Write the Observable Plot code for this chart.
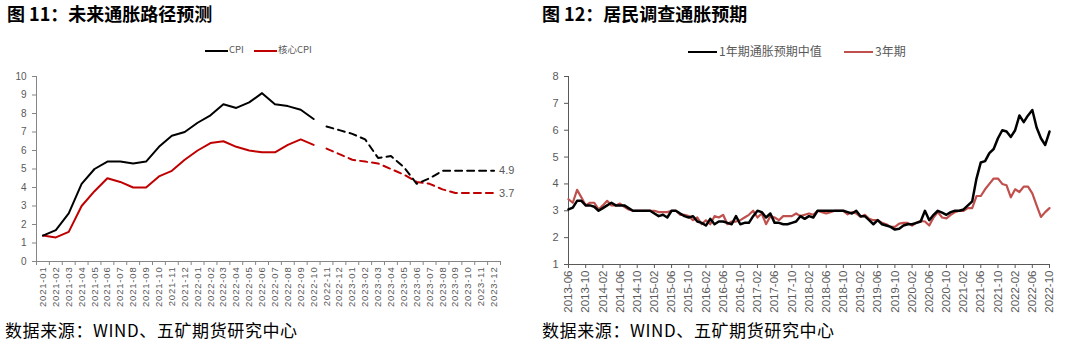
<!DOCTYPE html>
<html><head><meta charset="utf-8">
<script src="https://cdn.jsdelivr.net/npm/d3@7"></script>
<script src="https://cdn.jsdelivr.net/npm/@observablehq/plot@0.6"></script>
<style>
body{margin:0;width:1072px;height:352px;position:relative;background:#fff;overflow:hidden;font-family:"Noto Sans CJK SC",sans-serif;}
.abs{position:absolute;}
.title{font-weight:bold;font-size:18px;color:#000;white-space:nowrap;line-height:1;}
.cap{font-size:17px;color:#000;white-space:nowrap;line-height:1;letter-spacing:0.6px;}
.legtxt{white-space:nowrap;color:#595959;line-height:1;}
.legline{height:0;}
</style></head><body>
<div class="abs title" style="left:7px;top:4px">图 11：未来通胀路径预测</div>
<div class="abs title" style="left:542px;top:4px">图 12：居民调查通胀预期</div>

<div class="abs legline" style="left:205px;top:50px;width:23px;border-top:2px solid #000"></div>
<div class="abs legtxt" style="left:229px;top:45px;font-size:9.5px">CPI</div>
<div class="abs legline" style="left:254px;top:50px;width:23px;border-top:2px solid #C00000"></div>
<div class="abs legtxt" style="left:278px;top:45px;font-size:9.5px">核心CPI</div>

<div class="abs legline" style="left:688px;top:51px;width:29px;border-top:2px solid #000"></div>
<div class="abs legtxt" style="left:719px;top:45px;font-size:12px">1年期通胀预期中值</div>
<div class="abs legline" style="left:844px;top:51px;width:29px;border-top:2px solid #C0504D"></div>
<div class="abs legtxt" style="left:875px;top:45px;font-size:12px">3年期</div>

<div id="left" class="abs" style="left:0px;top:60px"></div>
<div id="right" class="abs" style="left:530px;top:60px"></div>

<div class="abs cap" style="left:5px;top:321px">数据来源：WIND、五矿期货研究中心</div>
<div class="abs cap" style="left:542px;top:321px">数据来源：WIND、五矿期货研究中心</div>

<script>
// ---------- 图11 data ----------
const leftMonths = ["2021-01","2021-02","2021-03","2021-04","2021-05","2021-06","2021-07","2021-08","2021-09","2021-10","2021-11","2021-12",
  "2022-01","2022-02","2022-03","2022-04","2022-05","2022-06","2022-07","2022-08","2022-09","2022-10","2022-11","2022-12",
  "2023-01","2023-02","2023-03","2023-04","2023-05","2023-06","2023-07","2023-08","2023-09","2023-10","2023-11","2023-12"];
const cpiActual = [1.4,1.7,2.6,4.2,5.0,5.4,5.4,5.3,5.4,6.2,6.8,7.0,7.5,7.9,8.5,8.3,8.6,9.1,8.5,8.4,8.2,7.7];
const cpiForecast = [7.3,7.1,6.9,6.6,5.6,5.7,5.1,4.2,4.5,4.9,4.9,4.9,4.9,4.9];
const coreActual = [1.4,1.3,1.6,3.0,3.8,4.5,4.3,4.0,4.0,4.6,4.9,5.5,6.0,6.4,6.5,6.2,6.0,5.9,5.9,6.3,6.6,6.3];
const coreForecast = [6.1,5.8,5.5,5.4,5.3,5.0,4.7,4.3,4.2,3.9,3.7,3.7,3.7,3.7];
const leftYTicks = [0,1,2,3,4,5,6,7,8,9,10];

// ---------- 图12 data (monthly, 2013-06 .. 2022-10) ----------
const surveyTickLabels = ["2013-06","2013-10","2014-02","2014-06","2014-10","2015-02","2015-06","2015-10","2016-02","2016-06",
  "2016-10","2017-02","2017-06","2017-10","2018-02","2018-06","2018-10","2019-02","2019-06","2019-10",
  "2020-02","2020-06","2020-10","2021-02","2021-06","2021-10","2022-02","2022-06","2022-10"];
const oneYear = [3.05,3.12,3.37,3.37,3.2,3.2,3.15,3.0,3.1,3.2,
  3.3,3.2,3.2,3.2,3.1,3.0,3.0,3.0,3.0,3.0,
  2.9,2.8,2.85,2.75,3.0,3.0,2.9,2.8,2.75,2.8,
  2.6,2.55,2.45,2.7,2.5,2.6,2.6,2.55,2.5,2.8,
  2.5,2.55,2.55,2.8,3.0,2.95,2.75,2.9,2.55,2.55,
  2.5,2.5,2.55,2.6,2.8,2.7,2.8,
  2.75,3.0,3.0,3.0,3.0,3.0,3.0,3.0,2.95,2.9,
  3.0,2.8,2.8,2.65,2.5,2.65,2.5,2.45,2.4,2.3,
  2.33,2.45,2.5,2.5,2.55,2.6,3.0,2.65,2.85,3.0,
  2.93,2.85,2.95,3.0,3.0,3.05,3.2,3.35,4.2,4.8,
  4.85,5.15,5.3,5.7,6.0,5.95,5.75,6.0,6.55,6.3,
  6.55,6.75,6.1,5.7,5.45,5.95];
const threeYear = [3.43,3.3,3.78,3.5,3.2,3.3,3.3,3.05,3.2,3.37,
  3.2,3.2,3.27,3.15,3.05,3.0,3.0,3.0,3.0,3.0,
  3.0,2.95,2.95,2.95,3.0,3.0,2.85,2.85,2.8,2.65,
  2.75,2.5,2.65,2.5,2.8,2.75,2.85,2.5,2.6,2.6,
  2.65,2.75,2.85,3.0,2.75,2.9,2.5,2.8,2.75,2.65,
  2.8,2.8,2.8,2.9,2.8,2.85,2.9,
  2.85,3.0,2.95,2.9,2.95,3.0,3.0,3.0,2.87,2.95,
  2.9,2.77,2.85,2.7,2.65,2.65,2.55,2.5,2.4,2.4,
  2.52,2.55,2.55,2.45,2.55,2.62,2.6,2.45,2.75,2.95,
  2.75,2.72,2.85,2.95,3.0,3.0,3.1,3.1,3.55,3.55,
  3.8,4.0,4.2,4.2,4.0,3.95,3.5,3.8,3.7,3.9,
  3.9,3.65,3.2,2.77,2.95,3.1];
const rightYTicks = [1,2,3,4,5,6,7,8];

// ---------- build tables ----------
const nA = cpiActual.length;
const cpiA = cpiActual.map((v,i)=>({i, v}));
const cpiF = cpiForecast.map((v,j)=>({i:j+nA, v}));
const coreA = coreActual.map((v,i)=>({i, v}));
const coreF = coreForecast.map((v,j)=>({i:j+nA, v}));
const endLabels = [cpiF[cpiF.length-1], coreF[coreF.length-1]];

const axisGray = "#868686", textGray = "#595959";

const left = Plot.plot({
  width:530, height:253,
  marginTop:16, marginBottom:52, marginLeft:36, marginRight:30,
  style:{fontFamily:"'Liberation Sans', Arial, sans-serif", fontSize:"10px", color:textGray, background:"transparent", overflow:"visible"},
  x:{type:"linear", domain:[-0.5, leftMonths.length-0.5]},
  y:{domain:[0,10]},
  marks:[
    Plot.axisY({ticks:leftYTicks, tickSize:4, tickPadding:6, tickFormat:d=>String(d), stroke:axisGray, fill:textGray, fontSize:10, label:null}),
    Plot.axisX({ticks:d3.range(-0.5, leftMonths.length, 1), tickSize:4, tickFormat:()=>"", stroke:axisGray, label:null}),
    Plot.axisX({ticks:d3.range(leftMonths.length), tickSize:0, tickPadding:5, tickRotate:-90, tickFormat:i=>leftMonths[i], fill:textGray, fontSize:9.5, label:null}),
    Plot.ruleX([-0.5],{stroke:axisGray}),
    Plot.ruleY([0],{stroke:axisGray}),
    Plot.line(coreA,{x:"i", y:"v", stroke:"#C00000", strokeWidth:2}),
    Plot.line(coreF,{x:"i", y:"v", stroke:"#C00000", strokeWidth:2, strokeDasharray:"7,5"}),
    Plot.line(cpiA,{x:"i", y:"v", stroke:"#000", strokeWidth:2}),
    Plot.line(cpiF,{x:"i", y:"v", stroke:"#000", strokeWidth:2, strokeDasharray:"7,5"}),
    Plot.text(endLabels,{x:"i", y:"v", text:d=>d.v.toFixed(1), dx:5, textAnchor:"start", fill:textGray, fontSize:11})
  ]
});
document.getElementById("left").appendChild(left);
// widen the month labels slightly (Excel-like spacing)
left.querySelectorAll("text").forEach(t=>{ if(/^20\d\d-\d\d$/.test(t.textContent)) t.style.letterSpacing="0.8px"; });

const s1 = oneYear.map((v,i)=>({i, v}));
const s3 = threeYear.map((v,i)=>({i, v}));
const rGray = "#595959";
const right = Plot.plot({
  width:542, height:261,
  marginTop:16, marginBottom:57, marginLeft:38, marginRight:23,
  style:{fontFamily:"'Liberation Sans', Arial, sans-serif", fontSize:"11px", color:textGray, background:"transparent", overflow:"visible"},
  x:{type:"linear", domain:[0, oneYear.length-1]},
  y:{domain:[1,8]},
  marks:[
    Plot.axisY({ticks:rightYTicks, tickSize:4, tickPadding:6, tickFormat:d=>String(d), stroke:rGray, fill:textGray, fontSize:11, label:null}),
    Plot.axisX({ticks:surveyTickLabels.map((d,k)=>k*4), tickSize:4, tickPadding:2, tickRotate:-90, tickFormat:i=>surveyTickLabels[i/4], stroke:rGray, fill:textGray, fontSize:11.5, label:null}),
    Plot.ruleX([0],{stroke:rGray}),
    Plot.ruleY([1],{stroke:rGray}),
    Plot.line(s3,{x:"i", y:"v", stroke:"#C0504D", strokeWidth:2.2}),
    Plot.line(s1,{x:"i", y:"v", stroke:"#000", strokeWidth:2.5})
  ]
});
document.getElementById("right").appendChild(right);
</script>
</body></html>
